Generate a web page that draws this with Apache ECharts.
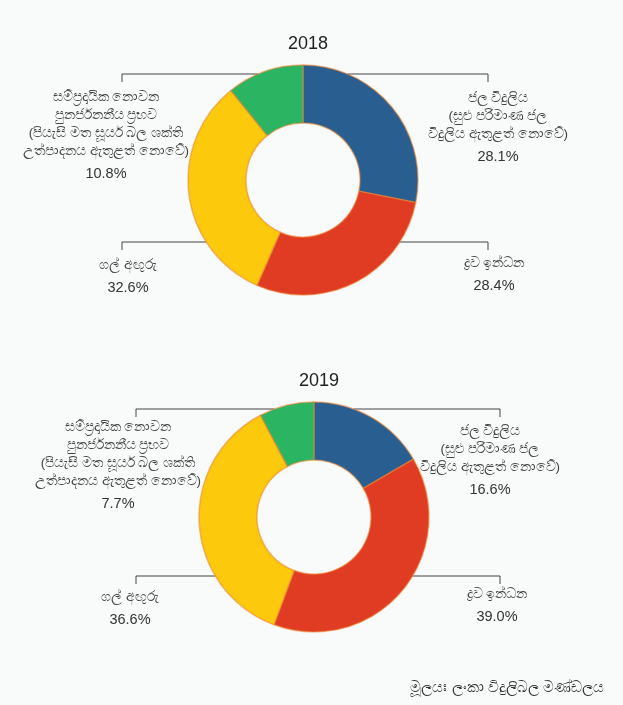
<!DOCTYPE html>
<html>
<head>
<meta charset="utf-8">
<script src="https://cdn.jsdelivr.net/npm/echarts@6/dist/echarts.min.js"></script>
<style>
  html, body { margin: 0; padding: 0; background: #f9fafa; }
  #main { width: 623px; height: 705px; }
</style>
</head>
<body>
<div id="main"></div>
<script>
// data
var years = ['2018', '2019'];
var categories = [
  'ජල විදුලිය\n(සුළු පරිමාණ ජල\nවිදුලිය ඇතුළත් නොවේ)',
  'ද්‍රව ඉන්ධන',
  'ගල් අඟුරු',
  'සම්ප්‍රදායික නොවන\nපුනර්ජනනීය ප්‍රභව\n(පියැසි මත සූර්ය බල ශක්ති\nඋත්පාදනය ඇතුළත් නොවේ)'
];
var share2018 = [28.1, 28.4, 32.6, 10.8];
var share2019 = [16.6, 39.0, 36.6, 7.7];
var colors = ['#295e91', '#e03c24', '#fcc90d', '#2bb563'];
var sourceText = 'මූලයඃ ලංකා විදුලිබල මණ්ඩලය';

// layout of each donut and its bracket labels
var pies = [
  { cx: 303, cy: 180, lineY: [74, 242], tickX: [122, 488],
    labelX: [498, 494, 128, 106], labelY: [89, 254, 256, 88] },
  { cx: 314, cy: 517, lineY: [409, 576], tickX: [136, 500],
    labelX: [490, 497, 130, 118], labelY: [422, 585, 588, 418] }
];
var R = 115, r = 57;

var charts = echarts.init(document.getElementById('main'));

function makeSeries(idx, values) {
  var p = pies[idx];
  return {
    name: years[idx],
    type: 'pie',
    center: [p.cx, p.cy],
    radius: [r, R],
    startAngle: 90,
    clockwise: true,
    animation: false,
    silent: true,
    itemStyle: {
      borderColor: 'rgba(236,132,48,0.55)',
      borderWidth: 1.5
    },
    label: {
      show: true,
      position: 'outside',
      formatter: function (d) {
        return '{n|' + d.name.split('\n').join('}\n{n|') + '}\n{p|' + d.value.toFixed(1) + '%}';
      },
      rich: {
        n: { fontSize: 13.5, color: '#444', lineHeight: 18, fontFamily: 'sans-serif' },
        p: { fontSize: 14.5, color: '#333', lineHeight: 28, fontFamily: 'Liberation Sans, Arial, sans-serif' }
      }
    },
    labelLine: {
      show: true,
      lineStyle: { color: '#444', width: 1 }
    },
    labelLayout: function (params) {
      var i = params.dataIndex;
      var right = i < 2;           // blue and red are on the right side
      var top = (i === 0 || i === 3);
      var ly = top ? p.lineY[0] : p.lineY[1];
      var tx = right ? p.tickX[1] : p.tickX[0];
      var dy = ly - p.cy;
      var ex = Math.sqrt(Math.max(R * R - dy * dy, 0));
      var sx = right ? p.cx + ex : p.cx - ex;
      return {
        x: p.labelX[i],
        y: p.labelY[i],
        align: 'center',
        verticalAlign: 'top',
        labelLinePoints: [[sx, ly], [tx, ly], [tx, ly + 8]]
      };
    },
    data: categories.map(function (c, k) {
      return { name: c, value: values[k], itemStyle: { color: colors[k] } };
    })
  };
}

var option = {
  backgroundColor: '#f9fafa',
  title: [
    { text: years[0], left: pies[0].cx, top: 30, textAlign: 'center',
      textStyle: { fontSize: 18, fontWeight: 'normal', color: '#222', fontFamily: 'Liberation Sans, Arial, sans-serif' } },
    { text: years[1], left: pies[1].cx, top: 367, textAlign: 'center',
      textStyle: { fontSize: 18, fontWeight: 'normal', color: '#222', fontFamily: 'Liberation Sans, Arial, sans-serif' } },
    { text: sourceText, right: 14, top: 675,
      textStyle: { fontSize: 15, fontWeight: 'normal', color: '#333', fontFamily: 'sans-serif' } }
  ],
  series: [
    makeSeries(0, share2018),
    makeSeries(1, share2019)
  ]
};

charts.setOption(option);
</script>
</body>
</html>
